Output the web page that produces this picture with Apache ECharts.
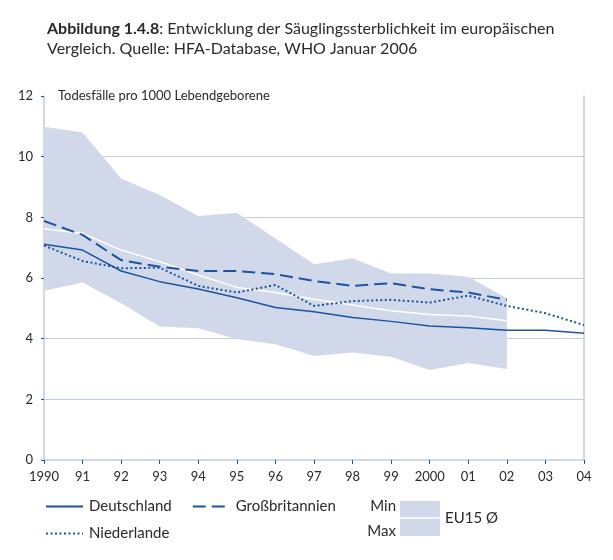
<!DOCTYPE html>
<html>
<head>
<meta charset="utf-8">
<script src="https://cdn.jsdelivr.net/npm/echarts@6/dist/echarts.min.js"></script>
<style>
html,body{margin:0;padding:0;background:#fff;}
#chart{width:613px;height:560px;}
</style>
</head>
<body>
<div id="chart"></div>
<script>
// ---- data ----
const years = ['1990','91','92','93','94','95','96','97','98','99','2000','01','02','03','04'];
const yTicks = [0, 2, 4, 6, 8, 10, 12];
const deutschland   = [7.11, 6.92, 6.23, 5.88, 5.64, 5.35, 5.03, 4.89, 4.70, 4.57, 4.42, 4.36, 4.28, 4.28, 4.18];
const grossbritannien = [7.88, 7.42, 6.59, 6.37, 6.23, 6.23, 6.13, 5.90, 5.74, 5.83, 5.63, 5.52, 5.28, null, null];
const niederlande   = [7.07, 6.56, 6.32, 6.34, 5.74, 5.52, 5.77, 5.08, 5.24, 5.28, 5.19, 5.42, 5.08, 4.84, 4.45];
const eu15Mean      = [7.62, 7.47, 6.92, 6.54, 6.10, 5.69, 5.52, 5.30, 5.11, 4.92, 4.80, 4.75, 4.59, null, null];
const eu15Min       = [5.58, 5.85, 5.17, 4.40, 4.34, 3.98, 3.82, 3.43, 3.54, 3.40, 2.97, 3.20, 3.00, null, null];
const eu15Max       = [10.99, 10.80, 9.28, 8.74, 8.04, 8.15, 7.30, 6.45, 6.65, 6.15, 6.15, 6.04, 5.33, null, null];

const eu15Range = eu15Max.map((v, i) => (v == null || eu15Min[i] == null) ? null : +(v - eu15Min[i]).toFixed(3));

const FONT = 'Lato';
const BLUE = '#1a569f';
const AXIS = '#c2cbe4';
const BAND = '#d1d8ea';
const TXT = '#2a2a2a';

const legendCommon = {
  itemWidth: 37, itemHeight: 14, itemGap: 20,
  itemStyle: { opacity: 0 },
  textStyle: { fontFamily: FONT, fontSize: 15, color: TXT, padding: [0, 0, 0, 1] },
  selectedMode: false
};

const chart = echarts.init(document.getElementById('chart'));
chart.setOption({
  animation: false,
  backgroundColor: '#fff',
  textStyle: { fontFamily: FONT },
  title: {
    left: 42, top: 14,
    text: '{b|Abbildung 1.4.8}: Entwicklung der Säuglingssterblichkeit im europäischen\nVergleich. Quelle: HFA-Database, WHO Januar 2006',
    textStyle: {
      fontFamily: FONT, fontSize: 16, fontWeight: 'normal', color: TXT, lineHeight: 20,
      rich: { b: { fontFamily: FONT, fontSize: 16, fontWeight: 'bold', color: TXT, lineHeight: 20 } }
    }
  },
  grid: { left: 44, right: 29, top: 96, bottom: 100, containLabel: false },
  legend: [
    Object.assign({ data: ['Deutschland', 'Großbritannien'], left: 40, top: 494 }, legendCommon),
    Object.assign({ data: ['Niederlande'], left: 40, top: 521 }, legendCommon)
  ],
  xAxis: {
    type: 'category', data: years, boundaryGap: false,
    axisLine: { show: true, lineStyle: { color: AXIS, width: 1.5 } },
    axisTick: { show: true, inside: false, length: 4, lineStyle: { color: BLUE, width: 1 } },
    axisLabel: { fontFamily: FONT, fontSize: 13, color: TXT, margin: 10, interval: 0 },
    splitLine: { show: false }
  },
  yAxis: [
    {
      type: 'value', min: 0, max: 12, interval: 2,
      name: 'Todesfälle pro 1000 Lebendgeborene', nameLocation: 'end', nameGap: 0,
      nameTextStyle: { fontFamily: FONT, fontSize: 13, color: TXT, align: 'left', verticalAlign: 'middle', padding: [0, 0, 0, 14] },
      axisLine: { show: true, lineStyle: { color: AXIS, width: 1.5 } },
      axisTick: { show: true, length: 3, lineStyle: { color: BLUE, width: 1 } },
      axisLabel: { fontFamily: FONT, fontSize: 13, color: TXT, margin: 11,
        formatter: v => yTicks.includes(v) ? String(v) : '' },
      splitLine: { show: true, showMinLine: false, showMaxLine: false, lineStyle: { color: AXIS, width: 1 } }
    },
    {
      type: 'value', min: 0, max: 12, interval: 2, position: 'right',
      axisLine: { show: true, lineStyle: { color: AXIS, width: 1.5 } },
      axisTick: { show: false }, axisLabel: { show: false }, splitLine: { show: false }
    }
  ],
  series: [
    {
      name: 'EU15 Min', type: 'line', stack: 'band', data: eu15Min,
      symbol: 'none', lineStyle: { opacity: 0 }, silent: true, z: 1
    },
    {
      name: 'EU15 Spanne', type: 'line', stack: 'band', data: eu15Range,
      symbol: 'none', lineStyle: { opacity: 0 }, areaStyle: { color: BAND, opacity: 1 }, silent: true, z: 1
    },
    {
      name: 'EU15 Ø', type: 'line', data: eu15Mean, symbol: 'none',
      lineStyle: { color: '#ffffff', width: 1.5 }, z: 2
    },
    {
      name: 'Deutschland', type: 'line', data: deutschland, symbol: 'none',
      itemStyle: { color: BLUE },
      lineStyle: { color: BLUE, width: 1.5, type: 'solid' }, z: 3
    },
    {
      name: 'Großbritannien', type: 'line', data: grossbritannien, symbol: 'none',
      itemStyle: { color: BLUE },
      lineStyle: { color: BLUE, width: 2, type: [13, 6] }, z: 3
    },
    {
      name: 'Niederlande', type: 'line', data: niederlande, symbol: 'none',
      itemStyle: { color: BLUE },
      lineStyle: { color: BLUE, width: 2, type: [2, 2.5] }, z: 3
    }
  ],
  graphic: [
    { type: 'rect', left: 400, top: 501, shape: { width: 40, height: 35 }, style: { fill: BAND }, silent: true },
    { type: 'line', shape: { x1: 400, y1: 518, x2: 440, y2: 518 }, style: { stroke: '#fff', lineWidth: 1.5 }, silent: true },
    { type: 'text', x: 396, y: 506, style: { text: 'Min', fontFamily: FONT, fontSize: 15, fill: TXT, align: 'right', verticalAlign: 'middle' } },
    { type: 'text', x: 396, y: 531, style: { text: 'Max', fontFamily: FONT, fontSize: 15, fill: TXT, align: 'right', verticalAlign: 'middle' } },
    { type: 'text', x: 445, y: 518, style: { text: 'EU15 Ø', fontFamily: FONT, fontSize: 15, fill: TXT, align: 'left', verticalAlign: 'middle' } }
  ]
});
</script>
</body>
</html>
